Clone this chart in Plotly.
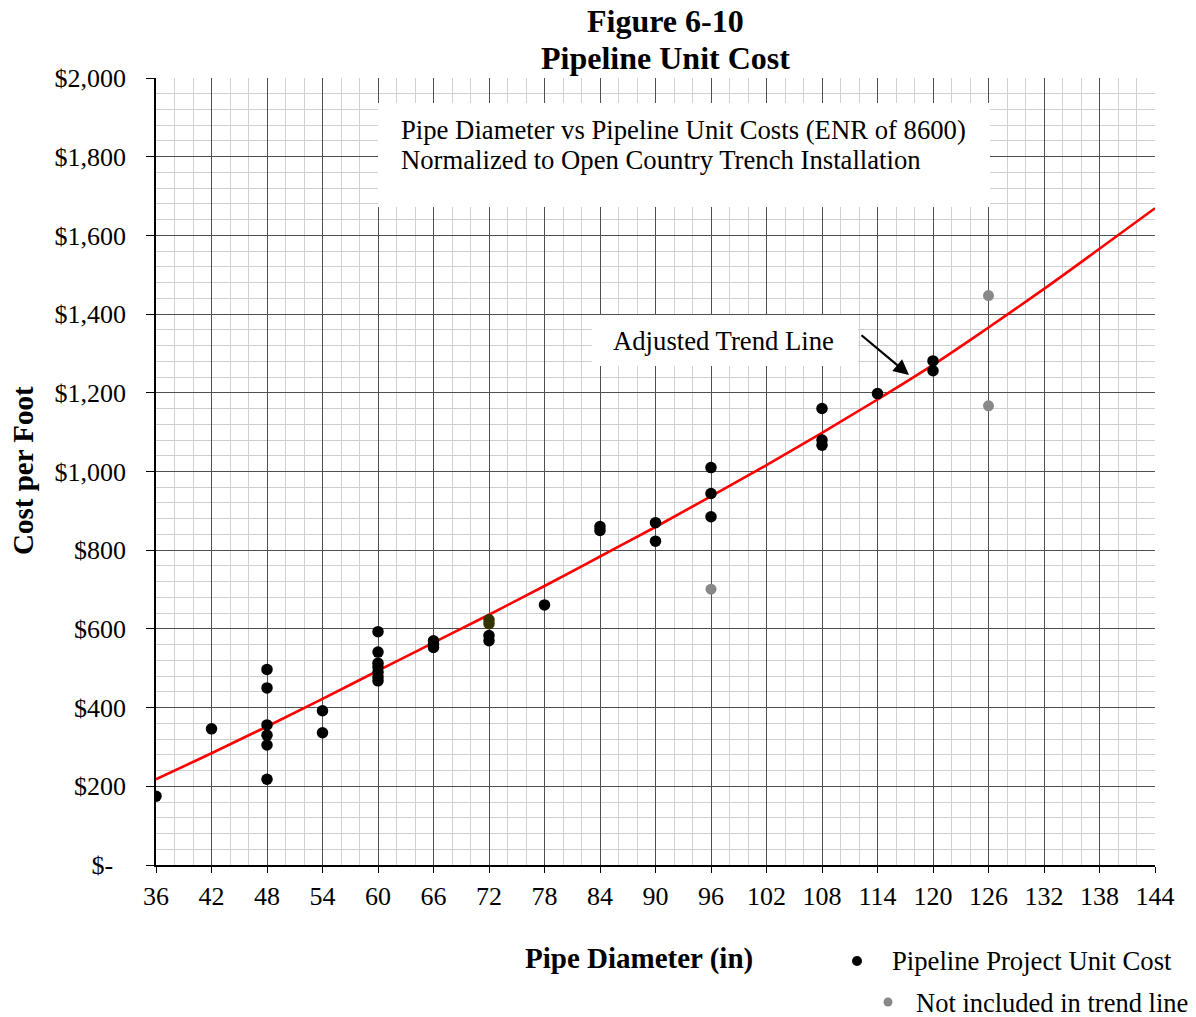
import plotly.graph_objects as go

# ---------------- data ----------------
diam_included = [36, 42,
                 48, 48, 48, 48, 48, 48,
                 54, 54,
                 60, 60, 60, 60, 60, 60, 60,
                 66, 66, 66,
                 72, 72,
                 78,
                 84, 84,
                 90, 90,
                 96, 96, 96,
                 108, 108, 108,
                 114,
                 120, 120]
cost_included = [175, 346,
                 497, 450, 356, 330, 305, 218,
                 392, 336,
                 593, 541, 513, 503, 490, 478, 468,
                 570, 561, 553,
                 583, 570,
                 661,
                 860, 850,
                 870, 823,
                 1010, 944, 885,
                 1160, 1080, 1067,
                 1198,
                 1281, 1256]

diam_olive = [72, 72]
cost_olive = [623, 613]

diam_excluded = [96, 126, 126]
cost_excluded = [701, 1447, 1167]

trend_x = [36, 42, 48, 54, 60, 66, 72, 78, 84, 90, 96, 102, 108, 114, 120, 126, 132, 138, 144]
trend_y = [218, 284, 352, 422, 494, 565, 636, 709, 784, 859, 937, 1016, 1098, 1183, 1271, 1366, 1464, 1566, 1669]

x_ticks = list(range(36, 145, 6))
y_ticks = [0, 200, 400, 600, 800, 1000, 1200, 1400, 1600, 1800, 2000]
y_tick_text = ["$-\u00a0\u00a0", "$200", "$400", "$600", "$800", "$1,000", "$1,200",
               "$1,400", "$1,600", "$1,800", "$2,000"]

title_lines = ["Figure 6-10", "Pipeline Unit Cost"]
box_lines = ["Pipe Diameter vs Pipeline Unit Costs (ENR of 8600)",
             "Normalized to Open Country Trench Installation"]
trend_label = "Adjusted Trend Line"
legend_labels = ["Pipeline Project Unit Cost", "Not included in trend line"]

# ---------------- layout geometry ----------------
W, H = 1196, 1017
L, R, T, B = 156, 1155, 78, 865
FONT = "Times New Roman, Liberation Serif, serif"


def px(x):
    return (x - L) / (R - L)


def py(y):
    return (B - y) / (B - T)


fig = go.Figure()

fig.add_trace(go.Scatter(x=trend_x, y=trend_y, mode="lines",
                         line=dict(color="#ff0000", width=2.6, shape="spline"),
                         showlegend=False, hoverinfo="skip"))
fig.add_trace(go.Scatter(x=diam_excluded, y=cost_excluded, mode="markers",
                         marker=dict(color="#888888", size=11),
                         showlegend=False))
fig.add_trace(go.Scatter(x=diam_included, y=cost_included, mode="markers",
                         marker=dict(color="#000000", size=11.5),
                         showlegend=False))
fig.add_trace(go.Scatter(x=diam_olive, y=cost_olive, mode="markers",
                         marker=dict(color="#333300", size=11.5),
                         showlegend=False))

shapes = []
# white text boxes
shapes.append(dict(type="rect", xref="paper", yref="paper",
                   x0=px(378), x1=px(990), y0=py(207), y1=py(103),
                   fillcolor="white", line=dict(width=0), layer="above"))
shapes.append(dict(type="rect", xref="paper", yref="paper",
                   x0=px(592), x1=px(858), y0=py(366), y1=py(315),
                   fillcolor="white", line=dict(width=0), layer="above"))
# legend markers
for cx, cy, r, col in [(857, 961, 5, "#000000"), (888, 1002, 4.5, "#888888")]:
    shapes.append(dict(type="circle", xref="paper", yref="paper",
                       xsizemode="pixel", ysizemode="pixel",
                       xanchor=px(cx), yanchor=py(cy),
                       x0=-r, x1=r, y0=-r, y1=r,
                       fillcolor=col, line=dict(width=0)))


def label(text, x, y, size, xanchor="center", angle=0):
    return dict(text=text, xref="paper", yref="paper", x=px(x), y=py(y),
                xanchor=xanchor, yanchor="middle", textangle=angle, showarrow=False,
                font=dict(family=FONT, size=size, color="black"))


annotations = [
    label("<b>%s</b>" % title_lines[0], 665, 21, 32),
    label("<b>%s</b>" % title_lines[1], 665, 58, 32),
    label(box_lines[0], 399, 130, 26.7, "left"),
    label(box_lines[1], 399, 160, 26.7, "left"),
    label(trend_label, 611, 341, 26.7, "left"),
    label("<b>Cost per Foot</b>", 23, 471, 29, "center", -90),
    label("<b>Pipe Diameter (in)</b>", 639, 958, 29),
    label(legend_labels[0], 890, 961, 26.7, "left"),
    label(legend_labels[1], 914, 1003, 26.5, "left"),
]
# arrow
annotations.append(dict(text="", xref="paper", yref="paper",
                        x=px(909), y=py(375), ax=860 - 909, ay=334 - 375,
                        showarrow=True, arrowhead=2, arrowsize=1.4, arrowwidth=2.2,
                        arrowcolor="black"))

fig.update_layout(
    width=W, height=H,
    margin=dict(l=L, r=W - R, t=T, b=H - B, pad=0),
    paper_bgcolor="white", plot_bgcolor="white",
    font=dict(family=FONT, size=26, color="black"),
    showlegend=False,
    shapes=shapes,
    annotations=annotations,
)
fig.update_xaxes(range=[36, 144], tickvals=x_ticks, ticktext=[str(v) for v in x_ticks],
                 showgrid=True, gridcolor="#505050", gridwidth=1,
                 minor=dict(dtick=2, tick0=36, showgrid=True, gridcolor="#d0d0d0", gridwidth=1),
                 showline=True, linecolor="black", linewidth=1.5,
                 ticks="outside", ticklen=6, tickcolor="black",
                 tickfont=dict(family=FONT, size=26), zeroline=False,
                 ticklabelstandoff=1)
fig.update_yaxes(range=[0, 2000], tickvals=y_ticks, ticktext=y_tick_text,
                 showgrid=True, gridcolor="#505050", gridwidth=1,
                 minor=dict(dtick=40, tick0=0, showgrid=True, gridcolor="#d0d0d0", gridwidth=1),
                 showline=True, linecolor="black", linewidth=1.5,
                 ticks="outside", ticklen=8, tickcolor="black",
                 tickfont=dict(family=FONT, size=26), zeroline=False,
                 ticklabelstandoff=15)

fig.write_html("out.html")
